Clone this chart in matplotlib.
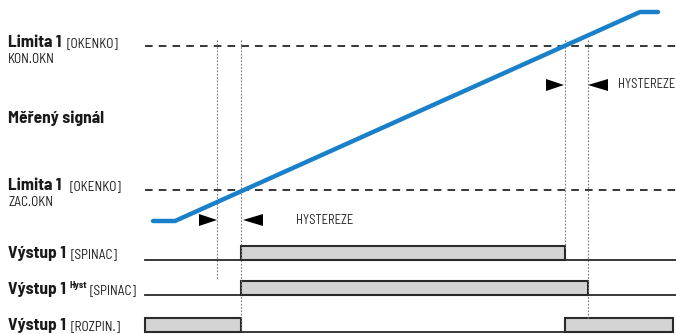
import matplotlib
matplotlib.use("Agg")
import matplotlib.pyplot as plt
from matplotlib.patches import Rectangle, Polygon

# --- data (schematic time / value units) ---
signal_t = [153, 175, 640, 658]
signal_v = [221, 221, 12, 12]
limit_upper = 46   # KON.OKN
limit_lower = 190  # ZAC.OKN
t_on_lower = 241       # signal crosses lower limit
t_hyst_lower = 217     # lower limit minus hysteresis
t_off_upper = 565      # signal crosses upper limit
t_hyst_upper = 588     # upper limit plus hysteresis
t_start = 145
t_end = 673

spinac_on = (241, 565)
hyst_on = (241, 588)
rozpin_on = [(145, 241), (565, 673)]

row_base = [260, 295, 332]
row_high = [246, 281, 318]

FONT = ['Barlow Semi Condensed', 'Roboto Condensed', 'DejaVu Sans']
fig = plt.figure(figsize=(6.76, 3.34), dpi=100)
ax = fig.add_axes([0, 0, 1, 1])
ax.set_xlim(0, 676)
ax.set_ylim(334, 0)
ax.axis('off')

# limits
for y in (limit_upper, limit_lower):
    ax.plot([t_start, 676], [y, y], color='black', lw=1.1, ls=(0, (5, 4)))

# vertical dotted guides
gkw = dict(color='#777777', lw=0.8, ls=(0, (1.5, 1.5)))
ax.plot([t_hyst_lower]*2, [40, 280], **gkw)
ax.plot([t_on_lower]*2, [40, 332], **gkw)
ax.plot([t_off_upper]*2, [40, 248], **gkw)
ax.plot([t_hyst_upper]*2, [40, 320], **gkw)

# signal
ax.plot(signal_t, signal_v, color='#1a80c9', lw=3.2, solid_capstyle='round')

# hysteresis arrows
def arrows(xl, xr, y):
    ax.add_patch(Polygon([[xl - 18, y - 6], [xl - 18, y + 6], [xl, y]], closed=True, color='black', lw=0))
    ax.add_patch(Polygon([[xr + 20, y - 6], [xr + 20, y + 6], [xr, y]], closed=True, color='black', lw=0))
arrows(t_hyst_lower, t_on_lower + 2, 220)
arrows(t_off_upper - 1, t_hyst_upper, 85)
ax.text(296, 220, 'HYSTEREZE', fontsize=9, family=FONT, va='center', ha='left', color='#222222')
ax.text(618, 85, 'HYSTEREZE', fontsize=9, family=FONT, va='center', ha='left', color='#222222')

# outputs
box_kw = dict(facecolor='#d4d4d4', edgecolor='#2a2a2a', lw=1.5)
ax.plot([t_start, 676], [row_base[0]]*2, color='#2a2a2a', lw=1.3)
ax.add_patch(Rectangle((spinac_on[0], row_high[0]), spinac_on[1]-spinac_on[0], row_base[0]-row_high[0], **box_kw))
ax.plot([t_start, 676], [row_base[1]]*2, color='#2a2a2a', lw=1.3)
ax.add_patch(Rectangle((hyst_on[0], row_high[1]), hyst_on[1]-hyst_on[0], row_base[1]-row_high[1], **box_kw))
ax.plot([rozpin_on[0][1], rozpin_on[1][0]], [row_base[2]]*2, color='#2a2a2a', lw=1.3)
for a, b in rozpin_on:
    ax.add_patch(Rectangle((a, row_high[2]), b-a, row_base[2]-row_high[2], **box_kw))

# labels
def label(x, y, bold, small, sup=None, gap=5):
    t = ax.text(x, y, bold, fontsize=12.5, fontweight='bold', family=FONT, va='baseline', color='#1a1a1a')
    fig.canvas.draw()
    bb = t.get_window_extent()
    inv = ax.transData.inverted()
    xe = inv.transform((bb.x1, 0))[0]
    if sup:
        s = ax.text(xe + 4, y - 6, sup, fontsize=7, fontweight='bold', family=FONT, va='baseline', color='#1a1a1a')
        fig.canvas.draw()
        xe = inv.transform((s.get_window_extent().x1, 0))[0]
    ax.text(xe + gap, y, small, fontsize=9.5, family=FONT, va='baseline', color='#1a1a1a')

label(8, 47, 'Limita 1', '[OKENKO]')
ax.text(8, 63, 'KON.OKN', fontsize=9.5, family=FONT, va='baseline', color='#1a1a1a')
ax.text(8, 123, 'Měřený signál', fontsize=12.5, fontweight='bold', family=FONT, va='baseline', color='#1a1a1a')
label(8, 190, 'Limita 1', '[OKENKO]', gap=8)
ax.text(8, 206, 'ZAC.OKN', fontsize=9.5, family=FONT, va='baseline', color='#1a1a1a')
label(8, 258, 'Výstup 1', '[SPINAC]')
label(8, 294, 'Výstup 1', '[SPINAC]', sup='Hyst', gap=2)
label(8, 330, 'Výstup 1', '[ROZPIN.]')

fig.savefig('out.png', dpi=100)
